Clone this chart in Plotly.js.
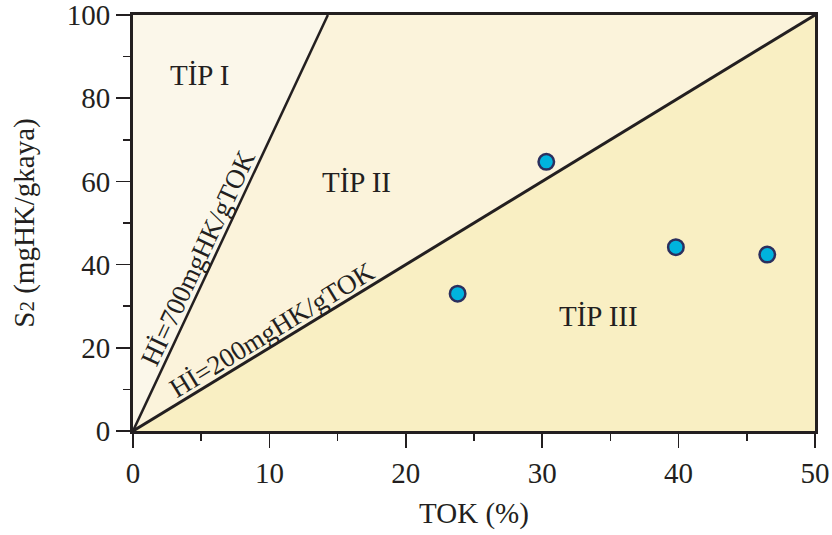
<!DOCTYPE html>
<html>
<head>
<meta charset="utf-8">
<script src="https://cdn.plot.ly/plotly-3.0.1.min.js"></script>
<style>html,body{margin:0;padding:0;background:#fff;}#chart{width:832px;height:535px;}</style>
</head>
<body>
<div id="chart"></div>
<script>
// Data
const tok = [23.8, 30.3, 39.8, 46.5];
const s2 = [33.0, 64.7, 44.2, 42.4];
const hiLines = [700, 200];           // HI boundaries (mgHK/gTOK)
const hiLabels = ['Hİ=700mgHK/gTOK', 'Hİ=200mgHK/gTOK'];
const typeLabels = ['TİP I', 'TİP II', 'TİP III'];
const xMax = 50, yMax = 100;

const ink = '#231f20';
const font = 'Liberation Serif, Times New Roman, serif';

// boundary intersection with the top / right of the frame
function endPoint(hi) {
  const k = hi / 100; // S2 = k * TOK
  const xTop = yMax / k;
  return xTop <= xMax ? [xTop, yMax] : [xMax, k * xMax];
}
const e700 = endPoint(hiLines[0]);
const e200 = endPoint(hiLines[1]);

const traces = [
  {x: [0, e700[0], 0, 0], y: [0, e700[1], yMax, 0], mode: 'lines', fill: 'toself',
   fillcolor: '#fbf7ea', line: {width: 0}, hoverinfo: 'skip', showlegend: false},
  {x: [0, e200[0], xMax, e700[0], 0], y: [0, e200[1], yMax, e700[1], 0], mode: 'lines', fill: 'toself',
   fillcolor: '#fbf3db', line: {width: 0}, hoverinfo: 'skip', showlegend: false},
  {x: [0, xMax, e200[0], 0], y: [0, 0, e200[1], 0], mode: 'lines', fill: 'toself',
   fillcolor: '#f9efc3', line: {width: 0}, hoverinfo: 'skip', showlegend: false},
  {x: [0, e700[0]], y: [0, e700[1]], mode: 'lines', line: {color: ink, width: 2.5},
   hoverinfo: 'skip', showlegend: false},
  {x: [0, e200[0]], y: [0, e200[1]], mode: 'lines', line: {color: ink, width: 3},
   hoverinfo: 'skip', showlegend: false},
  {x: tok, y: s2, mode: 'markers', showlegend: false,
   marker: {size: 15.5, color: '#00b3de', line: {color: '#2b2f5e', width: 2.5}}}
];

const annFont = {family: font, size: 29, color: ink};
const layout = {
  width: 832, height: 535,
  margin: {l: 133, r: 17, t: 15, b: 104},
  paper_bgcolor: '#ffffff', plot_bgcolor: '#ffffff',
  font: {family: font, color: ink},
  xaxis: {
    range: [0, xMax], dtick: 10, tick0: 0, ticks: 'outside', ticklen: 14, tickwidth: 1.5, tickcolor: ink,
    showline: true, linecolor: ink, linewidth: 3, mirror: true, showgrid: false, zeroline: false,
    ticklabeloverflow: 'allow',
    tickfont: {family: font, size: 29, color: ink},
    minor: {dtick: 5, tick0: 0, ticks: 'outside', ticklen: 7, tickwidth: 1.5, tickcolor: ink, showgrid: false},
    title: {text: 'TOK (%)', font: {family: font, size: 29, color: ink}, standoff: 15}
  },
  yaxis: {
    range: [0, yMax], dtick: 20, tick0: 0, ticks: 'outside', ticklen: 14, tickwidth: 1.5, tickcolor: ink,
    showline: true, linecolor: ink, linewidth: 3, mirror: true, showgrid: false, zeroline: false,
    ticklabeloverflow: 'allow',
    tickfont: {family: font, size: 29, color: ink},
    minor: {dtick: 10, tick0: 0, ticks: 'outside', ticklen: 7, tickwidth: 1.5, tickcolor: ink, showgrid: false},
    title: {text: 'S<span style="font-size:21px">2</span> (mgHK/gkaya)', font: {family: font, size: 29, color: ink}, standoff: 24}
  },
  annotations: [
    {x: 4.9, y: 85.6, text: typeLabels[0], showarrow: false, font: annFont},
    {x: 16.4, y: 59.9, text: typeLabels[1], showarrow: false, font: annFont},
    {x: 34.1, y: 27.6, text: typeLabels[2], showarrow: false, font: annFont},
    {x: 4.77, y: 41.6, text: hiLabels[0], showarrow: false, textangle: -64.9,
     font: {family: font, size: 27, color: ink}},
    {x: 10.19, y: 24.3, text: hiLabels[1], showarrow: false, textangle: -31.4,
     font: {family: font, size: 27, color: ink}}
  ]
};

Plotly.newPlot('chart', traces, layout, {displayModeBar: false, staticPlot: true});
</script>
</body>
</html>
